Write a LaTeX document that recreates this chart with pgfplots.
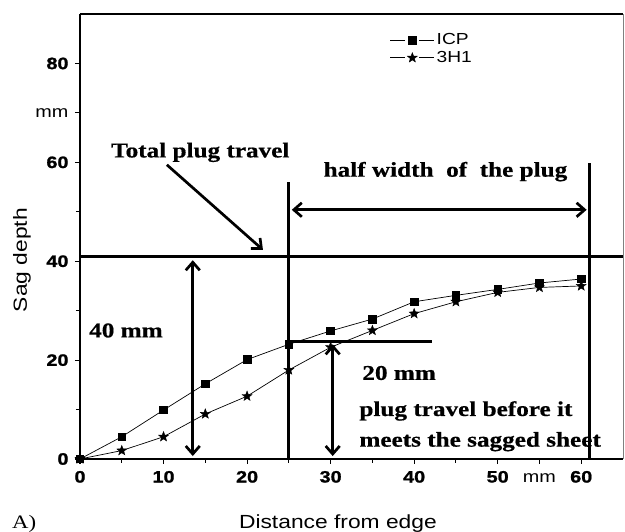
\documentclass[border=0pt]{standalone}
\usepackage{fontspec}
\setmainfont{Liberation Serif}[FakeStretch=1.2, BoldFeatures={FakeBold=0.6}]
\setsansfont{Liberation Sans}[FakeStretch=1.2]
\newfontfamily\tickfont{Liberation Sans}[FakeStretch=1.2, BoldFeatures={FakeBold=1.2}]
\usepackage{pgfplots}
\pgfplotsset{compat=1.18}
\usetikzlibrary{arrows.meta}

\pgfdeclareplotmark{fstar}{%
  \pgfpathmoveto{\pgfpointpolar{90}{\pgfplotmarksize}}%
  \pgfpathlineto{\pgfpointpolar{126}{0.42\pgfplotmarksize}}%
  \pgfpathlineto{\pgfpointpolar{162}{\pgfplotmarksize}}%
  \pgfpathlineto{\pgfpointpolar{198}{0.42\pgfplotmarksize}}%
  \pgfpathlineto{\pgfpointpolar{234}{\pgfplotmarksize}}%
  \pgfpathlineto{\pgfpointpolar{270}{0.42\pgfplotmarksize}}%
  \pgfpathlineto{\pgfpointpolar{306}{\pgfplotmarksize}}%
  \pgfpathlineto{\pgfpointpolar{342}{0.42\pgfplotmarksize}}%
  \pgfpathlineto{\pgfpointpolar{18}{\pgfplotmarksize}}%
  \pgfpathlineto{\pgfpointpolar{54}{0.42\pgfplotmarksize}}%
  \pgfpathclose
  \pgfusepathqfillstroke
}

\pgfplotstableread{
x y
0 0
5 4.5
10 9.9
15 15.2
20 20.1
25 23.2
30 25.9
35 28.3
40 31.8
45 33.1
50 34.3
55 35.6
60 36.4
}\icp
\pgfplotstableread{
x y
0 0
5 1.7
10 4.5
15 9.1
20 12.7
25 18.0
30 22.6
35 26.0
40 29.4
45 31.8
50 33.7
55 34.7
60 35.0
}\thh

\tikzset{sb/.tip={Straight Barb[length=8pt,width=14pt]}}

\begin{document}
\begin{tikzpicture}
\useasboundingbox (-80pt,-73pt) rectangle (545pt,459pt);
\begin{axis}[
  at={(0,0)}, anchor=south west,
  scale only axis, width=543pt, height=445pt,
  xmin=0, xmax=65, ymin=0, ymax=90,
  axis line style={draw=none},
  clip=false,
  tick align=outside, xtick pos=bottom, ytick pos=left,
  major tick length=5pt, minor tick length=4pt,
  tick style={black, line width=1.1pt},
  xtick={0,10,20,30,40,50,55,60},
  xticklabels={0,10,20,30,40,50,{\sffamily\mdseries mm},60},
  minor xtick={5,15,25,35,45},
  ytick={0,20,40,60,70,80},
  yticklabels={0,20,40,60,{\sffamily\mdseries mm},80},
  minor ytick={10,30,50},
  ticklabel style={font=\tickfont\bfseries\fontsize{16.5}{18}\selectfont},
  xticklabel style={yshift=-3pt, text height=12pt, text depth=1pt},
  yticklabel style={xshift=-3pt},
  xlabel={Distance from edge},
  ylabel={Sag depth},
  label style={font=\sffamily\fontsize{19}{21}\selectfont},
  xlabel style={at={(axis description cs:0.475,0)}, anchor=base, yshift=-70pt},
  ylabel style={at={(axis description cs:0,0.447)}, anchor=center, yshift=58pt},
  legend style={at={(rel axis cs:0.565,0.965)}, anchor=north west, draw=none, fill=none,
    font=\sffamily\fontsize{16}{17}\selectfont, row sep=1pt, cells={anchor=west}},
  legend image code/.code={
    \draw[#1] (0pt,0pt) -- (15pt,0pt);
    \draw[#1] (29pt,0pt) -- (44pt,0pt);
    \draw[#1] plot coordinates {(22pt,0pt)};
  },
]
\addplot[black, line width=0.7pt, mark=square*, mark size=3.8pt, mark options={solid, fill=black}] table {\icp};
\addlegendentry{ICP}
\addplot[black, line width=0.7pt, mark=fstar, mark size=5.2pt, mark options={solid, fill=black, line width=0.4pt}] table {\thh};
\addlegendentry{3H1}

% frame
\draw[line width=1.9pt] (rel axis cs:0,0) -- (rel axis cs:1,0);
\draw[line width=1.9pt] (rel axis cs:0,0) -- (rel axis cs:0,1);
\draw[line width=2.4pt] (rel axis cs:0,1) -- (rel axis cs:1,1);
\draw[line width=0.6pt, gray] (rel axis cs:1,0) -- (rel axis cs:1,1);

% annotations
\draw[line width=3.4pt] (axis cs:0,41) -- (axis cs:65,41);
\draw[line width=3.1pt] (axis cs:25,0) -- (axis cs:25,56);
\draw[line width=3.1pt] (axis cs:61,0) -- (axis cs:61,59.8);
\draw[line width=2.7pt, {sb}-{sb}] (axis cs:25.35,50.4) -- (axis cs:60.65,50.4);
\draw[line width=2.7pt, -{sb}] (axis cs:10.4,59.5) -- (axis cs:21.9,42.3);
\draw[line width=2.7pt, {sb}-{sb}] (axis cs:13.5,0.6) -- (axis cs:13.5,40.2);
\draw[line width=2.8pt] (axis cs:25,23.7) -- (axis cs:42.1,23.7);
\draw[line width=2.7pt, {sb}-{sb}] (axis cs:30.25,0.6) -- (axis cs:30.25,23.2);

\begin{scope}[every node/.style={font=\rmfamily\bfseries\fontsize{21}{24}\selectfont, anchor=base, inner sep=0pt}]
\node at (axis cs:14.4,61.0) {Total plug travel};
\node at (axis cs:43.75,57.1) {half width\ \ of\ \ the plug};
\node at (axis cs:5.5,24.6) {40 mm};
\node at (axis cs:38.2,16.0) {20 mm};
\node at (axis cs:46.2,8.7) {plug travel before it};
\node at (axis cs:47.9,2.5) {meets the sagged sheet};
\end{scope}
\end{axis}
\node[anchor=north west, inner sep=0pt, font=\rmfamily\fontsize{19}{21}\selectfont] at (-68pt,-56pt) {A)};
\end{tikzpicture}
\end{document}
